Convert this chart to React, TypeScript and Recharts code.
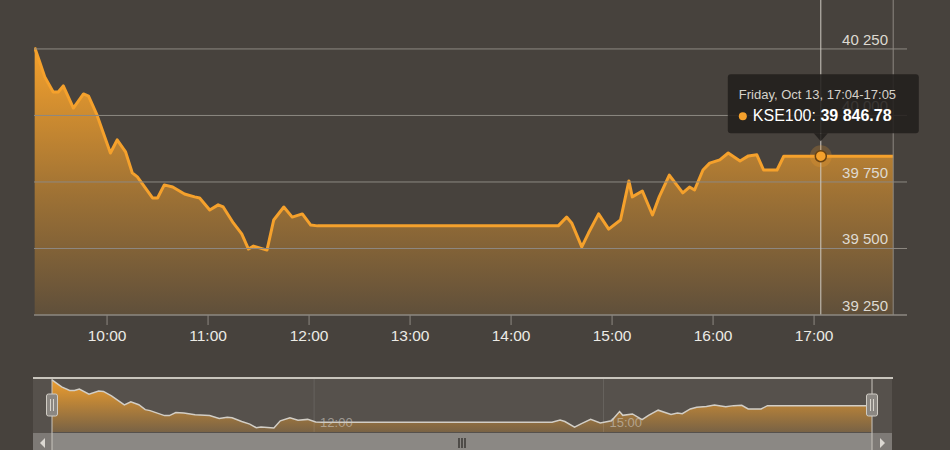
import React from 'react';
import { ComposedChart, AreaChart, Area, XAxis, YAxis, ReferenceLine, ReferenceDot } from 'recharts';

// ---- data ----
const times = [
  '09:17', '09:20', '09:23', '09:28', '09:31', '09:34', '09:40', '09:46', '09:49', '09:54',
  '10:02', '10:06', '10:11', '10:15', '10:18', '10:27', '10:30', '10:34', '10:39', '10:46',
  '10:52', '10:55', '11:01', '11:06', '11:09', '11:15', '11:20', '11:24', '11:27', '11:35',
  '11:39', '11:45', '11:50', '11:56', '12:01', '12:05', '14:28', '14:33', '14:36', '14:42',
  '14:46', '14:52', '14:58', '15:05', '15:10', '15:12', '15:18', '15:24', '15:28', '15:34',
  '15:42', '15:46', '15:49', '15:54', '15:58', '16:04', '16:09', '16:16', '16:21', '16:26',
  '16:30', '16:38', '16:42', '17:04', '17:47',
];
const kse100 = [
  40255, 40201, 40145, 40088, 40088, 40111, 40028, 40081, 40073, 40002,
  39859, 39908, 39863, 39784, 39769, 39690, 39690, 39739, 39731, 39705,
  39694, 39690, 39645, 39664, 39656, 39596, 39555, 39498, 39509, 39494,
  39607, 39656, 39618, 39630, 39588, 39585, 39585, 39618, 39596, 39506,
  39558, 39630, 39573, 39607, 39754, 39694, 39716, 39626, 39694, 39776,
  39709, 39731, 39720, 39795, 39821, 39833, 39859, 39829, 39848, 39852,
  39795, 39795, 39846.78, 39846.78, 39846.78,
];
const xTickLabels = ['10:00', '11:00', '12:00', '13:00', '14:00', '15:00', '16:00', '17:00'];
const yTicks = [39250, 39500, 39750, 40000, 40250];
const navLabels = ['12:00', '15:00'];
const seriesName = 'KSE100';
const tooltipDay = 'Friday, Oct 13';
const tooltipTime = '17:04';
const tooltipTimeEnd = '17:05';

// ---- helpers ----
const toMin = (t: string) => {
  const [h, m] = t.split(':').map(Number);
  return h * 60 + m;
};
const fmtSpace = (v: number, digits = 0) => {
  const [i, d] = v.toFixed(digits).split('.');
  const s = i.replace(/\B(?=(\d{3})+(?!\d))/g, ' ');
  return d ? `${s}.${d}` : s;
};
const data = times.map((t, i) => ({ t: toMin(t), v: kse100[i] }));
const xTicks = xTickLabels.map(toMin);
const navTicks = navLabels.map(toMin);
const tipX = toMin(tooltipTime);
const tipV = data.find((d) => d.t === tipX)!.v;
const lastT = data[data.length - 1].t;

const FONT = '"Liberation Sans", Arial, Helvetica, sans-serif';
const BG = '#47423d';
const GRID = '#8d8882';
const ORANGE = '#f5a12c';

const XTick = (props: any) => {
  const { x, y, payload } = props;
  const m = payload.value as number;
  const label = `${Math.floor(m / 60)}:${String(m % 60).padStart(2, '0')}`;
  return (
    <text x={x} y={y} dy={14} textAnchor="middle" fontFamily={FONT} fontSize={15.5} fill="#ecebe6">
      {label}
    </text>
  );
};

const YLabel = (props: any) => {
  const { viewBox, value } = props;
  return (
    <text x={viewBox.x + viewBox.width - 19} y={viewBox.y - 4} textAnchor="end" fontFamily={FONT} fontSize={15} fill="#dedad2">
      {fmtSpace(value)}
    </text>
  );
};

const TipShape = (props: any) => {
  const { cx, cy } = props;
  const bx = cx - 93;
  const by = cy - 82;
  return (
    <g>
      <circle cx={cx} cy={cy} r={11} fill={ORANGE} fillOpacity={0.22} />
      <circle cx={cx} cy={cy} r={5.5} fill={ORANGE} stroke="#6b4310" strokeWidth={1.5} />
      <rect x={bx} y={by} width={191} height={59} rx={3} fill="#221f1c" fillOpacity={0.88} />
      <polygon points={`${cx - 7},${by + 59} ${cx + 7},${by + 59} ${cx},${by + 67}`} fill="#221f1c" fillOpacity={0.88} />
      <text x={bx + 11} y={by + 25} fontFamily={FONT} fontSize={13} fill="#d6d2ca">
        {`${tooltipDay}, ${tooltipTime}-${tooltipTimeEnd}`}
      </text>
      <circle cx={bx + 15} cy={by + 42} r={4} fill={ORANGE} />
      <text x={bx + 25} y={by + 47} fontFamily={FONT} fontSize={16} fill="#ffffff">
        <tspan>{`${seriesName}: `}</tspan>
        <tspan fontWeight="bold">{fmtSpace(tipV, 2)}</tspan>
      </text>
    </g>
  );
};

const NavLabel = (props: any) => {
  const { viewBox, value } = props;
  return (
    <text x={viewBox.x + 6} y={viewBox.y + viewBox.height - 5} fontFamily={FONT} fontSize={13} fill="#cfcac2" fillOpacity={0.6}>
      {value}
    </text>
  );
};

export default function App() {
  return (
    <div style={{ position: 'absolute', left: 0, top: 0, width: 950, height: 450, background: BG, overflow: 'hidden' }}>
      <div style={{ position: 'absolute', left: 0, top: 0 }}>
        <ComposedChart width={950} height={370} data={data} margin={{ top: 0, right: 43, bottom: 25, left: 34 }}>
          <defs>
            <linearGradient id="mainFill" x1="0" y1="0" x2="0" y2="1">
              <stop offset="0%" stopColor={ORANGE} stopOpacity={1} />
              <stop offset="55%" stopColor={ORANGE} stopOpacity={0.5} />
              <stop offset="100%" stopColor={ORANGE} stopOpacity={0.14} />
            </linearGradient>
          </defs>
          <XAxis
            dataKey="t"
            type="number"
            domain={[556.6, 1075.2]}
            allowDataOverflow
            ticks={xTicks}
            height={30}
            tickSize={10}
            tickMargin={2}
            stroke={GRID}
            axisLine={{ stroke: GRID, strokeWidth: 1.5 }}
            tickLine={{ stroke: GRID }}
            tick={<XTick />}
          />
          <YAxis hide domain={[39250, 40434]} allowDataOverflow ticks={yTicks} />
          {yTicks.slice(1).map((v) => (
            <ReferenceLine key={`g${v}`} y={v} stroke={GRID} strokeWidth={1} />
          ))}
          <Area
            type="linear"
            dataKey="v"
            stroke={ORANGE}
            strokeWidth={3}
            strokeLinejoin="round"
            fill="url(#mainFill)"
            fillOpacity={1}
            isAnimationActive={false}
            dot={false}
            activeDot={false}
          />
          {yTicks.map((v) => (
            <ReferenceLine key={`l${v}`} y={v} stroke="none" label={<YLabel value={v} />} />
          ))}
          <ReferenceLine x={lastT} stroke={GRID} strokeWidth={1} />
          <ReferenceLine x={tipX} stroke="#cfcac2" strokeWidth={1} />
          <ReferenceDot x={tipX} y={tipV} r={5} shape={<TipShape />} />
        </ComposedChart>
      </div>

      {/* navigator panel background */}
      <svg width={950} height={450} style={{ position: 'absolute', left: 0, top: 0 }}>
        <rect x={33} y={378} width={859} height={55} fill="#56514c" />
      </svg>

      <div style={{ position: 'absolute', left: 0, top: 370 }}>
        <AreaChart width={950} height={80} data={data} margin={{ top: 9, right: 78, bottom: 18, left: 52 }}>
          <defs>
            <linearGradient id="navFill" x1="0" y1="0" x2="0" y2="1">
              <stop offset="0%" stopColor={ORANGE} stopOpacity={0.95} />
              <stop offset="100%" stopColor={ORANGE} stopOpacity={0.22} />
            </linearGradient>
          </defs>
          <XAxis dataKey="t" type="number" domain={[557, 1067]} hide />
          <YAxis domain={[39430, 40270]} hide allowDataOverflow />
          {navTicks.map((t, i) => (
            <ReferenceLine key={t} x={t} stroke="#ffffff" strokeOpacity={0.1} label={<NavLabel value={navLabels[i]} />} />
          ))}
          <Area
            type="linear"
            dataKey="v"
            stroke="#d2cec6"
            strokeWidth={1.5}
            fill="url(#navFill)"
            fillOpacity={1}
            isAnimationActive={false}
            dot={false}
            activeDot={false}
          />
        </AreaChart>
      </div>

      {/* navigator chrome and scrollbar */}
      <svg width={950} height={450} style={{ position: 'absolute', left: 0, top: 0, pointerEvents: 'none' }}>
        <rect x={33} y={433} width={859} height={17} fill="#7e7a76" />
        <rect x={52} y={433} width={820} height={17} fill="#8b8884" />
        <polygon points="45,438 45,448 40,443" fill="#dcd8d2" />
        <polygon points="880,438 880,448 885,443" fill="#dcd8d2" />
        <line x1={459} y1={438} x2={459} y2={448} stroke="#2f2c29" strokeWidth={1.3} />
        <line x1={462} y1={438} x2={462} y2={448} stroke="#2f2c29" strokeWidth={1.3} />
        <line x1={465} y1={438} x2={465} y2={448} stroke="#2f2c29" strokeWidth={1.3} />
        <line x1={33} y1={378} x2={893} y2={378} stroke="#c9c5bd" strokeWidth={2} />
        <line x1={52} y1={378} x2={52} y2={450} stroke="#c9c5bd" strokeWidth={1} />
        <line x1={872} y1={378} x2={872} y2={450} stroke="#c9c5bd" strokeWidth={1} />
        <rect x={46.5} y={394} width={11} height={22} rx={2} fill="#8b8782" stroke="#d0ccc4" strokeWidth={1} />
        <line x1={50.5} y1={399} x2={50.5} y2={411} stroke="#d8d4cc" strokeWidth={1} />
        <line x1={53.5} y1={399} x2={53.5} y2={411} stroke="#d8d4cc" strokeWidth={1} />
        <rect x={866.5} y={394} width={11} height={22} rx={2} fill="#8b8782" stroke="#d0ccc4" strokeWidth={1} />
        <line x1={870.5} y1={399} x2={870.5} y2={411} stroke="#d8d4cc" strokeWidth={1} />
        <line x1={873.5} y1={399} x2={873.5} y2={411} stroke="#d8d4cc" strokeWidth={1} />
      </svg>
    </div>
  );
}
